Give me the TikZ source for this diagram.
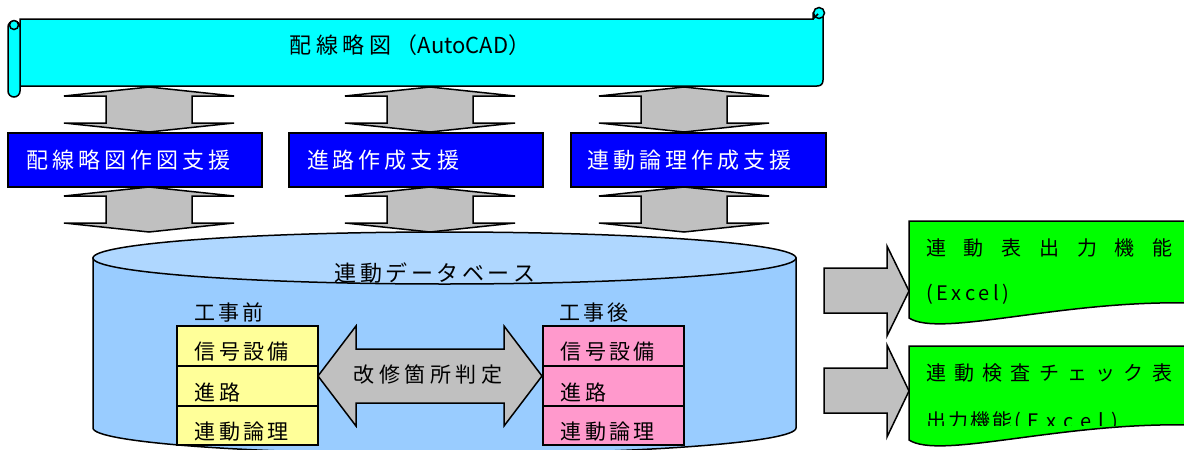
\documentclass[tikz,border=0pt]{standalone}
\usepackage{fontspec}
\setmainfont{Noto Sans CJK JP}
\makeatletter
\def\lsp#1#2{\def\lsp@sep{\kern #1\relax}\lsp@x#2\relax}
\def\lsp@x#1{#1\futurelet\lsp@next\lsp@y}
\def\lsp@y{\ifx\lsp@next\relax\expandafter\@gobble\else\expandafter\lsp@z\fi}
\def\lsp@z{\lsp@sep\lsp@x}
\makeatother
\definecolor{cyanband}{RGB}{0,255,255}
\definecolor{boxblue}{RGB}{0,0,255}
\definecolor{arrgray}{RGB}{192,192,192}
\definecolor{dbtop}{RGB}{175,215,255}
\definecolor{dbbody}{RGB}{153,204,255}
\definecolor{cellyellow}{RGB}{255,255,153}
\definecolor{cellpink}{RGB}{255,153,204}
\definecolor{docgreen}{RGB}{0,255,0}
\begin{document}
\begin{tikzpicture}[x=1pt,y=-1pt,line join=miter,
  outl/.style={draw=black,line width=1.5pt},
  arrowst/.style={outl,fill=arrgray},
  bluebox/.style={outl,fill=boxblue,inner sep=0pt,minimum height=54pt},
  cellst/.style={outl,inner sep=0pt,minimum width=141pt},
  ttl/.style={inner sep=0pt,font=\fontsize{22pt}{26pt}\selectfont},
  tmid/.style={inner sep=0pt,font=\fontsize{21pt}{25pt}\selectfont},
  tsml/.style={inner sep=0pt,font=\fontsize{20pt}{24pt}\selectfont},
  vda/.pic={\filldraw[arrowst] (0,0) -- (85,9) -- (43,9) -- (43,36) -- (85,36) -- (0,45)
     -- (-85,36) -- (-43,36) -- (-43,9) -- (-85,9) -- cycle;}]
\clip (0,0) rectangle (1184,450);
\fill[white] (0,0) rectangle (1184,450);

% ---- scroll banner ----
\filldraw[outl,fill=cyanband] (20,19) -- (813,19) -- (813,13) -- (823,13) -- (823,80)
   .. controls (823,84) and (821,86) .. (817,86) -- (20,86) -- cycle;
\filldraw[outl,fill=cyanband] (819,13) circle[radius=5.5];
\draw[outl] (813,19) -- (818,14);
\filldraw[outl,fill=cyanband,rounded corners=6pt] (8,21) rectangle (20,97);
\filldraw[outl,fill=cyanband] (14,25) circle[radius=4.5];
\node[ttl] (banner) at (410,45) {\lsp{4.5pt}{配線略図（}AutoCAD）};

% ---- upper arrows ----
\pic at (149,87) {vda};
\pic at (430,87) {vda};
\pic at (684,87) {vda};

% ---- blue boxes ----
\node[bluebox,minimum width=254pt] (b1) at (135,160) {};
\node[bluebox,minimum width=254pt] (b2) at (416,160) {};
\node[bluebox,minimum width=255pt] (b3) at (698.5,160) {};
\node[ttl,text=white] (b1t) at (129,160) {\lsp{4pt}{配線略図作図支援}};
\node[ttl,text=white] (b2t) at (383,160) {\lsp{4pt}{進路作成支援}};
\node[ttl,text=white] (b3t) at (689.5,160) {\lsp{4pt}{連動論理作成支援}};

% ---- lower arrows ----
\pic at (149,187) {vda};
\pic at (430,187) {vda};
\pic at (684,187) {vda};

% ---- database cylinder ----
\filldraw[outl,fill=dbbody] (93,258) -- (93,428)
   .. controls (93,442.36) and (250.37,454) .. (444.5,454)
   .. controls (638.63,454) and (796,442.36) .. (796,428) -- (796,258) -- cycle;
\filldraw[outl,fill=dbtop] (444.5,258) ellipse[x radius=351.5,y radius=26];
\node[ttl] (db) at (435,273) {\lsp{3.5pt}{連動データベース}};

\node[tmid,anchor=west] (pre) at (194,312.5) {\lsp{3pt}{工事前}};
\node[tmid,anchor=west] (post) at (559,312.5) {\lsp{3pt}{工事後}};

% before cells
\node[cellst,fill=cellyellow,minimum height=40pt] (y1) at (247.5,346) {};
\node[cellst,fill=cellyellow,minimum height=40pt] (y2) at (247.5,386) {};
\node[cellst,fill=cellyellow,minimum height=39pt] (y3) at (247.5,425.5) {};
\node[tmid,anchor=west] (y1t) at (194.5,352) {\lsp{3.4pt}{信号設備}};
\node[tmid,anchor=west] (y2t) at (194.5,392) {\lsp{3.4pt}{進路}};
\node[tmid,anchor=west] (y3t) at (194.5,432) {\lsp{3.4pt}{連動論理}};
% after cells
\node[cellst,fill=cellpink,minimum height=40pt] (p1) at (613.5,346) {};
\node[cellst,fill=cellpink,minimum height=40pt] (p2) at (613.5,386) {};
\node[cellst,fill=cellpink,minimum height=39pt] (p3) at (613.5,425.5) {};
\node[tmid,anchor=west] (p1t) at (560.5,352) {\lsp{3.4pt}{信号設備}};
\node[tmid,anchor=west] (p2t) at (560.5,392) {\lsp{3.4pt}{進路}};
\node[tmid,anchor=west] (p3t) at (560.5,432) {\lsp{3.4pt}{連動論理}};

% ---- comparison double arrow ----
\filldraw[arrowst] (318,376) -- (356,326) -- (356,349) -- (504,349) -- (504,326) -- (542,376)
   -- (504,426) -- (504,403) -- (356,403) -- (356,426) -- cycle;
\node[tmid] (judge) at (428,375) {\lsp{4.5pt}{改修箇所判定}};

% ---- right arrows ----
\filldraw[arrowst] (824,268) -- (887,268) -- (887,246) -- (909,291) -- (887,336) -- (887,313) -- (824,313) -- cycle;
\filldraw[arrowst] (824,368) -- (887,368) -- (887,345) -- (909,391) -- (887,437) -- (887,413) -- (824,413) -- cycle;

% ---- output documents ----
\filldraw[outl,fill=docgreen] (1190,221) -- (909,221) -- (909,318)
   .. controls (940,338) and (1060,300) .. (1190,303) -- cycle;
\filldraw[outl,fill=docgreen] (1190,346) -- (909,346) -- (909,440)
   .. controls (940,460) and (1060,422) .. (1190,425) -- cycle;
\node[tsml,anchor=west] (g1) at (926,248) {\lsp{17.7pt}{連動表出力機能}};
\node[tsml,anchor=west] (g2) at (926,294) {\lsp{3.5pt}{(Excel)}};
\node[tsml,anchor=west] (g3) at (926,373) {\lsp{8.25pt}{連動検査チェック表}};
\begin{scope}
\clip (900,395) rectangle (1184,425);
\node[tsml,anchor=west] (g4) at (926,422) {\lsp{2pt}{出力機能}\kern2pt\lsp{7pt}{(Excel)}};
\end{scope}
\end{tikzpicture}
\end{document}
